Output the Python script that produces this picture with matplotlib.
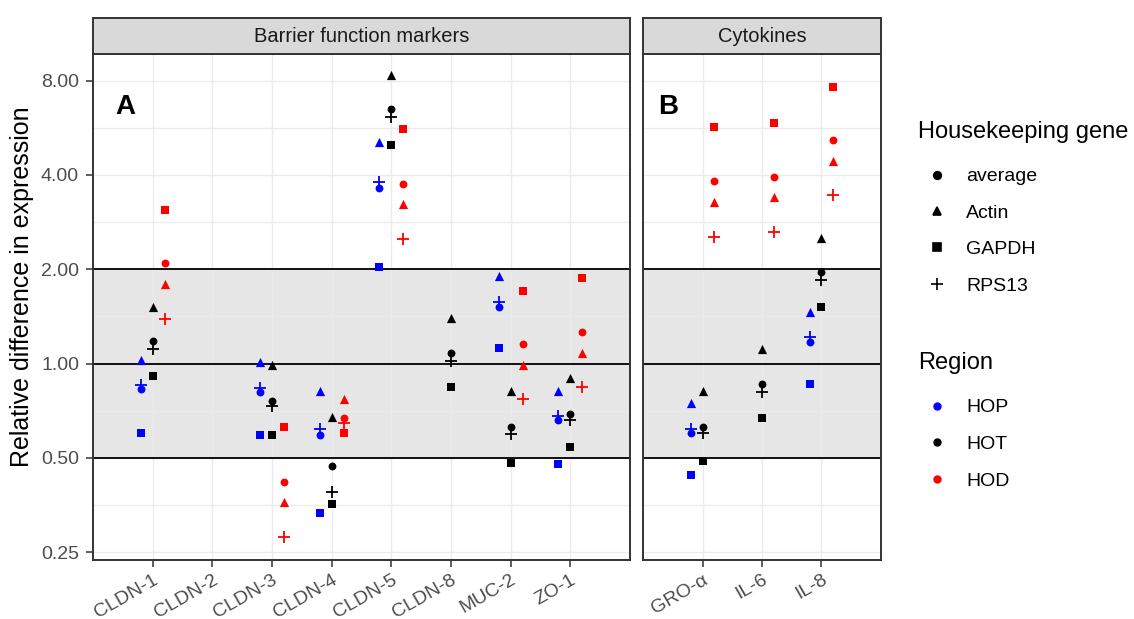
import numpy as np
import matplotlib.pyplot as plt
from matplotlib.lines import Line2D
from matplotlib.patches import Rectangle
from matplotlib.ticker import FixedLocator

plt.rcParams['font.family'] = ['Liberation Sans', 'DejaVu Sans']

genes = ['average', 'Actin', 'GAPDH', 'RPS13']
gene_markers = ['o', '^', 's', '+']
regions = ['HOP', 'HOT', 'HOD']
region_colors = ['#0000FF', '#000000', '#FF0000']

# columns: average, Actin, GAPDH, RPS13
barrier_cats = ['CLDN-1', 'CLDN-2', 'CLDN-3', 'CLDN-4', 'CLDN-5', 'CLDN-8', 'MUC-2', 'ZO-1']
barrier_hop = [[0.83, 1.03, 0.60, 0.855],
               [np.nan] * 4,
               [0.81, 1.01, 0.59, 0.835],
               [0.59, 0.82, 0.333, 0.62],
               [3.62, 5.09, 2.04, 3.80],
               [np.nan] * 4,
               [1.51, 1.90, 1.12, 1.57],
               [0.66, 0.82, 0.48, 0.68]]
barrier_hot = [[1.18, 1.52, 0.91, 1.11],
               [np.nan] * 4,
               [0.76, 0.99, 0.59, 0.73],
               [0.47, 0.675, 0.357, 0.388],
               [6.48, 8.31, 4.97, 6.11],
               [1.08, 1.40, 0.84, 1.02],
               [0.63, 0.82, 0.483, 0.595],
               [0.69, 0.90, 0.54, 0.66]]
barrier_hod = [[2.10, 1.79, 3.09, 1.39],
               [np.nan] * 4,
               [0.42, 0.362, 0.63, 0.28],
               [0.67, 0.77, 0.60, 0.646],
               [3.74, 3.23, 5.60, 2.49],
               [np.nan] * 4,
               [1.156, 0.99, 1.71, 0.77],
               [1.26, 1.08, 1.87, 0.84]]

cyto_cats = ['GRO-α', 'IL-6', 'IL-8']
cyto_hop = [[0.60, 0.75, 0.44, 0.62],
            [np.nan] * 4,
            [1.17, 1.46, 0.86, 1.22]]
cyto_hot = [[0.63, 0.82, 0.49, 0.60],
            [0.86, 1.11, 0.67, 0.81],
            [1.96, 2.52, 1.51, 1.85]]
cyto_hod = [[3.83, 3.27, 5.67, 2.54],
            [3.93, 3.39, 5.84, 2.63],
            [5.15, 4.44, 7.64, 3.44]]

y_ticks = [0.25, 0.5, 1, 2, 4, 8]
y_minor = [0.354, 0.707, 1.414, 2.83, 5.66]

W, H = 1134, 619
fig = plt.figure(figsize=(W / 100, H / 100), dpi=100)
fig.patch.set_facecolor('white')

top, bottom = 54, 560
strip_top = 18


def px_axes(x0, x1):
    return fig.add_axes([x0 / W, 1 - bottom / H, (x1 - x0) / W, (bottom - top) / H])


def draw_panel(ax, cats, data, title, tag, tag_x):
    n = len(cats)
    ax.set_yscale('log', base=2)
    ax.set_ylim(0.2363, 9.72)
    ax.set_xlim(0, n + 1)
    xs = np.arange(1, n + 1)

    ax.axhspan(0.5, 2, color='#E6E6E6', zorder=0.3, lw=0)
    for v in y_ticks + y_minor:
        ax.axhline(v, color='#EBEBEB', lw=1.0, zorder=0.5)
    for xv in xs:
        ax.axvline(xv, color='#EBEBEB', lw=1.0, zorder=0.5)
    for v in [0.5, 1, 2]:
        ax.axhline(v, color='black', lw=1.3, zorder=1.5)

    for ri, (vals, col) in enumerate(zip(data, region_colors)):
        arr = np.array(vals, dtype=float)
        off = (ri - 1) * 0.2
        for gi, mk in enumerate(gene_markers):
            if mk == '+':
                ax.scatter(xs + off, arr[:, gi], marker='+', s=80, color=col,
                           linewidths=1.3, zorder=3)
            elif mk == 's':
                ax.scatter(xs + off, arr[:, gi], marker='s', s=36, color=col,
                           linewidths=0, zorder=3)
            elif mk == '^':
                ax.scatter(xs + off, arr[:, gi], marker='^', s=44, color=col,
                           linewidths=0, zorder=3)
            else:
                ax.scatter(xs + off, arr[:, gi], marker='o', s=32, color=col,
                           linewidths=0, zorder=3)

    ax.yaxis.set_major_locator(FixedLocator(y_ticks))
    ax.yaxis.set_minor_locator(FixedLocator([]))
    ax.set_yticklabels(['%.2f' % v for v in y_ticks])
    ax.set_xticks(xs)
    ax.set_xticklabels(cats, rotation=30, ha='right', rotation_mode='anchor')
    for sp in ax.spines.values():
        sp.set_color('#333333')
        sp.set_linewidth(1.4)
    ax.tick_params(axis='both', direction='out', length=5, width=1.1,
                   color='#333333', labelcolor='#4D4D4D', labelsize=14, pad=5)
    ax.tick_params(axis='x', pad=3)

    ax.text(tag_x, 0.895, tag, transform=ax.transAxes, fontsize=20,
            fontweight='bold', ha='center', va='center')

    # facet strip
    pos = ax.get_position()
    strip_h = (top - strip_top) / H
    fig.patches.append(Rectangle((pos.x0, pos.y1), pos.width, strip_h,
                                 transform=fig.transFigure, facecolor='#D9D9D9',
                                 edgecolor='#333333', lw=1.4, zorder=0))
    fig.text(pos.x0 + pos.width / 2, pos.y1 + strip_h / 2, title, ha='center',
             va='center', fontsize=14.5, color='#1A1A1A')


axA = px_axes(93, 630)
draw_panel(axA, barrier_cats, [barrier_hop, barrier_hot, barrier_hod],
           'Barrier function markers', 'A', 0.061)
axB = px_axes(643, 881)
draw_panel(axB, cyto_cats, [cyto_hop, cyto_hot, cyto_hod], 'Cytokines', 'B', 0.105)
axB.tick_params(axis='y', left=False, labelleft=False)

fig.text(22 / W, 1 - 287 / H, 'Relative difference in expression', rotation=90,
         ha='center', va='center', fontsize=18, color='black')

# legends
fig.text(918 / W, 1 - 132 / H, 'Housekeeping gene', ha='left', va='center',
         fontsize=17, color='black')
fig.text(918 / W, 1 - 363 / H, 'Region', ha='left', va='center',
         fontsize=17, color='black')

gene_handles = [Line2D([], [], ls='none', marker=m, color='black',
                       markersize=ms, markeredgewidth=1.2)
                for m, ms in zip(gene_markers, [5.5, 6, 5.5, 9])]
leg1 = fig.legend(gene_handles, genes, loc='upper left',
                  bbox_to_anchor=(908 / W, 1 - 158 / H), frameon=False,
                  fontsize=14, handlelength=2.0, handletextpad=0.5,
                  labelspacing=0.97, borderpad=0)
region_handles = [Line2D([], [], ls='none', marker='o', color=c, markersize=5)
                  for c in region_colors]
leg2 = fig.legend(region_handles, regions, loc='upper left',
                  bbox_to_anchor=(908 / W, 1 - 389 / H), frameon=False,
                  fontsize=14, handlelength=2.0, handletextpad=0.5,
                  labelspacing=0.99, borderpad=0)

fig.savefig('out.png', dpi=100, facecolor='white')
